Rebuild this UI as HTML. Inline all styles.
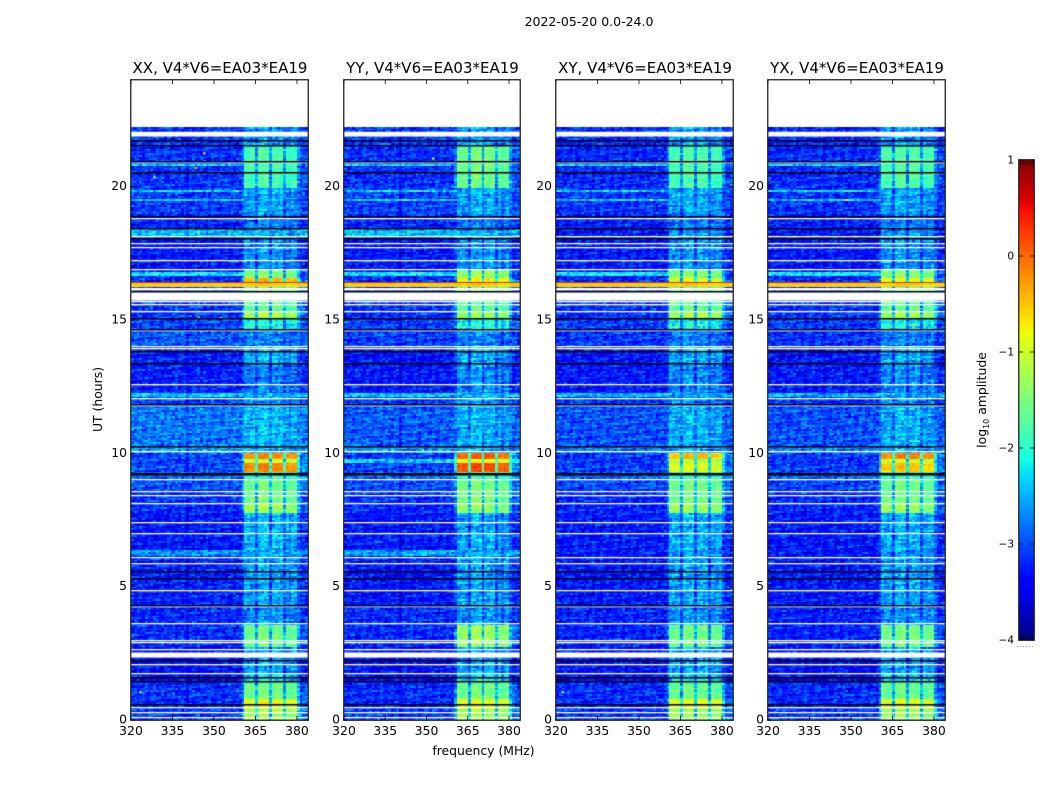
<!DOCTYPE html>
<html lang="en">
<head>
<meta charset="utf-8">
<title>2022-05-20 dynamic spectra</title>
<style>
html,body{margin:0;padding:0;background:#fff;}
#stage{position:relative;width:1050px;height:800px;overflow:hidden;background:#fff;}
canvas{position:absolute;display:block;}
svg{position:absolute;left:0;top:0;}
text{font-family:"DejaVu Sans","Liberation Sans",sans-serif;fill:#000;}
</style>
</head>
<body>
<div id="stage">
<canvas id="heat0" width="177" height="640" style="left:131px;top:80px"></canvas>
<canvas id="heat1" width="176" height="640" style="left:344px;top:80px"></canvas>
<canvas id="heat2" width="177" height="640" style="left:556px;top:80px"></canvas>
<canvas id="heat3" width="177" height="640" style="left:768px;top:80px"></canvas>
<canvas id="cbar" width="15" height="480" style="left:1019px;top:160px"></canvas>
<svg id="overlay" width="1050" height="800" xmlns="http://www.w3.org/2000/svg">
<text x="589" y="26" text-anchor="middle" font-size="12.5">2022-05-20 0.0-24.0</text>
<text x="483.5" y="755" text-anchor="middle" font-size="12.4">frequency (MHz)</text>
<text transform="translate(102,399.5) rotate(-90)" text-anchor="middle" font-size="12.4">UT (hours)</text>
<text transform="translate(986,400) rotate(-90)" text-anchor="middle" font-size="12.4">log<tspan font-size="8" dy="3">10</tspan><tspan dy="-3"> amplitude</tspan></text>
</svg>
</div>
<script>
// ---------- chart data ----------
const panelTitles = ["XX, V4*V6=EA03*EA19","YY, V4*V6=EA03*EA19","XY, V4*V6=EA03*EA19","YX, V4*V6=EA03*EA19"];
const xTicks = [320,335,350,365,380];
const yTicks = [0,5,10,15,20];
const colorTicks = [-4,-3,-2,-1,0,1];
const dataTopUT = 22.25;
const bandEdgesMHz = [[361,365],[366,370],[371,375],[376,380]];
const bandTrim = [-0.05,0.05,0.0,-0.08];

// lower UT edge of each time block, reading top to bottom
const segmentFloorUT = [21.54,19.93,18.99,18.39,18.10,16.85,16.55,16.37,16.25,15.35,15.07,14.60,14.00,13.37,12.24,12.09,11.83,10.25,10.03,9.77,9.62,9.28,9.03,8.58,8.12,7.74,6.39,6.13,4.29,3.54,2.72,1.74,1.44,0.73,0.39,0.00];

// log10 amplitude of the off-band background in each block
const backgroundXX = [-3.15,-3.15,-3.1,-3.25,-2.45,-3.3,-3.3,-3.2,-0.55,-3.1,-3.1,-3.05,-2.95,-3.25,-3.25,-2.35,-3.1,-2.8,-2.6,-3.05,-3.1,-3.05,-2.85,-3.0,-3.15,-3.2,-3.3,-2.65,-3.25,-3.2,-3.2,-3.35,-3.4,-3.15,-3.2,-3.1];
const backgroundYY = [-3.15,-3.15,-3.1,-3.2,-2.4,-3.3,-3.3,-3.2,-0.55,-3.15,-3.15,-3.1,-3.1,-3.3,-3.3,-2.4,-3.15,-2.95,-2.6,-3.1,-2.35,-3.1,-2.85,-3.05,-3.15,-3.2,-3.3,-2.6,-3.3,-3.2,-3.2,-3.35,-3.4,-3.2,-3.2,-3.1];
const backgroundXY = [-3.2,-3.2,-3.15,-3.25,-3.3,-3.3,-3.3,-3.2,-0.55,-3.15,-3.15,-3.1,-3.15,-3.3,-3.3,-2.5,-3.15,-3.0,-2.75,-3.1,-3.15,-3.1,-2.9,-3.05,-3.2,-3.25,-3.3,-3.3,-3.3,-3.25,-3.25,-3.35,-3.4,-3.2,-3.2,-3.15];
const backgroundYX = [-3.2,-3.2,-3.15,-3.25,-3.3,-3.3,-3.3,-3.2,-0.55,-3.15,-3.15,-3.1,-3.15,-3.3,-3.3,-2.5,-3.15,-3.0,-2.75,-3.1,-3.15,-3.1,-2.9,-3.05,-3.2,-3.25,-3.3,-3.3,-3.3,-3.25,-3.25,-3.35,-3.4,-3.2,-3.2,-3.15];

// log10 amplitude inside the 361-380 MHz bands in each block
const bandXX = [-2.6,-1.8,-2.55,-2.75,-2.55,-2.65,-1.45,-0.4,-0.55,-1.65,-1.15,-2.05,-2.75,-2.45,-2.75,-2.5,-2.65,-2.45,-2.5,-0.2,-1.0,-0.15,-1.9,-1.55,-1.55,-1.25,-2.45,-2.55,-2.55,-2.65,-1.55,-2.55,-2.3,-1.55,-0.8,-1.25];
const bandYY = [-2.6,-1.55,-2.55,-2.75,-2.55,-2.65,-1.3,-0.7,-0.55,-1.65,-1.3,-2.05,-2.75,-2.5,-2.65,-2.5,-2.65,-2.5,-2.5,0.05,-0.8,0.15,-1.85,-1.5,-1.5,-1.35,-2.55,-2.55,-2.55,-2.65,-1.3,-2.55,-2.3,-1.55,-0.85,-1.25];
const bandXY = [-2.6,-1.8,-2.55,-2.75,-2.65,-2.65,-1.45,-0.85,-0.55,-1.65,-1.2,-2.1,-2.75,-2.5,-2.7,-2.55,-2.7,-2.5,-2.55,-0.45,-1.15,-0.9,-1.9,-1.55,-1.55,-1.3,-2.5,-2.6,-2.55,-2.65,-1.55,-2.55,-2.35,-1.6,-0.85,-1.3];
const bandYX = [-2.6,-1.75,-2.55,-2.75,-2.65,-2.65,-1.4,-0.8,-0.55,-1.65,-1.25,-2.1,-2.75,-2.5,-2.7,-2.55,-2.7,-2.5,-2.55,-0.15,-1.0,-0.5,-1.9,-1.55,-1.55,-1.3,-2.5,-2.6,-2.55,-2.65,-1.5,-2.55,-2.35,-1.6,-0.85,-1.3];

// flagged (blank) and zero-valued (black) integrations, UT hours
const whiteLinesUT = [20.89,18.82,18.13,17.87,17.72,17.23,16.89,15.69,15.58,15.33,14.60,14.00,13.93,12.57,12.05,11.79,10.07,9.03,8.58,8.42,8.13,7.40,6.99,6.10,5.87,4.86,4.27,3.63,2.98,2.91,2.66,2.08,1.74,0.46,0.28,0.08];
const whiteBandTopUT = [22.06,16.20,16.05,2.53];
const whiteBandFloorUT = [21.88,16.11,15.73,2.34];
const blackLinesUT = [21.72,21.55,20.95,20.54,18.89,18.44,18.04,16.07,15.07,14.65,13.82,13.37,11.83,10.25,9.26,9.22,5.57,5.29,4.29,2.23,1.60,1.44,0.58];
const redLineUT = [16.42];

// narrow RFI streaks and isolated spikes
const streakUT = [20.80,19.85,19.47,16.72];
const streakLog = [-2.3,-2.3,-2.35,-2.2];
const spikePanel = [0,0,0,0,0,0,1,2,2,3];
const spikeMHz = [346,343,328,344,352,323,352,322,354,348];
const spikeUT = [21.25,20.70,20.35,15.08,15.08,1.05,21.05,1.05,19.5,19.5];
const spikeLog = [-0.6,-0.4,-1.2,-1.0,-0.5,-1.4,-1.2,-1.3,-0.8,-0.9];

// hand-typed grain tables that give the cells their speckled look
const grainA = [0.21,-0.34,0.08,-0.12,0.29,-0.05,-0.27,0.16,0.33,-0.19,0.02,-0.31,0.12,0.24,-0.08,-0.22,0.31,-0.15,0.05,-0.36,0.18,0.27,-0.02,-0.25,0.1,-0.11,0.35,-0.29,0.06,0.14,-0.17];
const grainB = [-0.14,0.22,-0.26,0.03,0.17,-0.09,0.28,-0.21,0.11,-0.03,0.25,-0.3,0.07,0.19,-0.16,0.01,-0.24,0.3,-0.07,0.13,-0.19,0.23,-0.01,-0.28,0.09,0.2,-0.12,0.04,-0.23,0.26,-0.05,0.15,-0.18,0.0,0.24,-0.1,0.06];

const backgrounds = [backgroundXX,backgroundYY,backgroundXY,backgroundYX];
const bands = [bandXX,bandYY,bandXY,bandYX];

// ---------- scales ----------
const freqMin = 320, freqMax = 384, utMin = 0, utMax = 24, logMin = -4, logMax = 1;
const plotTop = 80, plotHeight = 640, plotWidth = 177;
const panelLeft = [131,344,556,768];
const cbarLeft = 1019, cbarTop = 160, cbarWidth = 15, cbarHeight = 480;
function xScale(mhz){ return (mhz-freqMin)/(freqMax-freqMin)*plotWidth; }
function yScale(ut){ return (utMax-ut)/(utMax-utMin)*plotHeight; }
function cScale(v){ return (logMax-v)/(logMax-logMin)*cbarHeight; }

function lerp(t,xs,ys){
  for(let i=1;i<xs.length;i++){
    if(t<=xs[i]) return ys[i-1]+(ys[i]-ys[i-1])*(t-xs[i-1])/(xs[i]-xs[i-1]);
  }
  return ys[ys.length-1];
}
function jet(t){
  t=Math.max(0,Math.min(1,t));
  return [
    255*lerp(t,[0,0.35,0.66,0.89,1],[0,0,1,1,0.5]),
    255*lerp(t,[0,0.125,0.375,0.64,0.91,1],[0,0,1,1,0,0]),
    255*lerp(t,[0,0.11,0.34,0.65,1],[0.5,1,1,0,0])
  ];
}
function levelColor(v){ return jet((v-logMin)/(logMax-logMin)); }

// ---------- heatmaps ----------
const rowStep = 0.07;
const rowCount = Math.round((utMax-utMin)/rowStep);
const chanCount = freqMax-freqMin;
function segmentIndex(ut){
  for(let i=0;i<segmentFloorUT.length;i++){ if(ut>=segmentFloorUT[i]) return i; }
  return segmentFloorUT.length-1;
}
function bandWeight(mhz){
  for(let b=0;b<bandEdgesMHz.length;b++){
    const e=bandEdgesMHz[b];
    if(mhz>=e[0]&&mhz<e[1]) return {w:1,trim:bandTrim[b]};
  }
  if(mhz===360) return {w:0.25,trim:0};
  if(mhz>=361&&mhz<=380) return {w:0.4,trim:0};
  if(mhz>380) return {w:0.12,trim:0};
  return {w:0,trim:0};
}
function drawPanel(p){
  const off=document.createElement('canvas');
  off.width=chanCount; off.height=rowCount;
  const octx=off.getContext('2d');
  const img=octx.createImageData(chanCount,rowCount);
  for(let r=0;r<rowCount;r++){
    const ut=utMax-(r+0.5)*rowStep;
    const seg=segmentIndex(ut);
    for(let c=0;c<chanCount;c++){
      const i=(r*chanCount+c)*4;
      if(ut>dataTopUT){
        img.data[i]=255;img.data[i+1]=255;img.data[i+2]=255;img.data[i+3]=255;
        continue;
      }
      const mhz=freqMin+c;
      const bw=bandWeight(mhz);
      const bg=backgrounds[p][seg], bd=bands[p][seg]+bw.trim;
      let lvl=bg+bw.w*(bd-bg);
      for(let s=0;s<streakUT.length;s++){
        if(Math.abs(ut-streakUT[s])<rowStep*0.6 && mhz<361) lvl=Math.max(lvl,streakLog[s]);
      }
      const ga=grainA[(c*13+r*29+p*5)%grainA.length];
      const gb=grainB[(c*c*3+r*17+c*r+p*7)%grainB.length];
      const amp=(bg>-1)?0.12:(bw.w===1&&bd>-1.2?0.3:(bw.w===1&&bd>-2?0.5:0.85));
      lvl+=(ga+gb)*amp;
      const col=levelColor(lvl);
      img.data[i]=col[0];img.data[i+1]=col[1];img.data[i+2]=col[2];img.data[i+3]=255;
    }
  }
  octx.putImageData(img,0,0);
  const cv=document.getElementById('heat'+p);
  const ctx=cv.getContext('2d');
  ctx.fillStyle='#fff';
  ctx.fillRect(0,0,cv.width,cv.height);
  ctx.imageSmoothingEnabled=false;
  ctx.drawImage(off,0,0,cv.width,cv.height);
  const sx=cv.width/plotWidth;
  spikeMHz.forEach(function(m,k){
    if(spikePanel[k]!==p) return;
    const col=levelColor(spikeLog[k]);
    ctx.fillStyle='rgb('+col.map(Math.round).join(',')+')';
    ctx.fillRect(xScale(m)*sx,yScale(spikeUT[k])-1,2.5,2);
  });
  redLineUT.forEach(function(u){
    ctx.fillStyle='rgb(235,40,0)';
    ctx.fillRect(0,Math.round(yScale(u)-0.5),cv.width,1);
  });
  ctx.fillStyle='#fff';
  whiteBandTopUT.forEach(function(u,k){
    ctx.fillRect(0,yScale(u),cv.width,yScale(whiteBandFloorUT[k])-yScale(u));
  });
  whiteLinesUT.forEach(function(u){
    ctx.fillRect(0,Math.round(yScale(u)-0.5),cv.width,1.3);
  });
  ctx.fillStyle='#000';
  blackLinesUT.forEach(function(u){
    ctx.fillRect(0,Math.round(yScale(u)-0.5),cv.width,1.5);
  });
}
panelLeft.forEach(function(_,p){ drawPanel(p); });

// ---------- colorbar ----------
(function(){
  const cv=document.getElementById('cbar');
  const ctx=cv.getContext('2d');
  for(let y=0;y<cbarHeight;y++){
    const v=logMax-(y+0.5)/cbarHeight*(logMax-logMin);
    const col=levelColor(v);
    ctx.fillStyle='rgb('+col.map(Math.round).join(',')+')';
    ctx.fillRect(0,y,cbarWidth,1);
  }
})();

// ---------- axes ----------
const NS='http://www.w3.org/2000/svg';
const overlay=document.getElementById('overlay');
function svgEl(tag,props,txt){
  const el=document.createElementNS(NS,tag);
  for(const k in props) el.setAttribute(k,props[k]);
  if(txt!==undefined) el.textContent=txt;
  overlay.appendChild(el);
  return el;
}
panelLeft.forEach(function(left,p){
  const w=(p===1)?176:plotWidth;
  const frame=svgEl('rect',{x:left-0.25,y:plotTop-0.25,width:w+0.5,height:plotHeight+0.5,fill:'none',stroke:'#222','stroke-width':1.3});
  
  
  const title=svgEl('text',{x:left+w/2+0.5,y:73,'text-anchor':'middle','font-size':15},panelTitles[p]);
  
  
  xTicks.forEach(function(t){
    const x=left+xScale(t)*(w/plotWidth);
    const tb=svgEl('line',{x1:x,x2:x,y1:plotTop+plotHeight,y2:plotTop+plotHeight-4,stroke:'#000','stroke-width':0.8});
    
    
    const tt=svgEl('line',{x1:x,x2:x,y1:plotTop,y2:plotTop+4,stroke:'#000','stroke-width':0.8});
    
    
    const lab=svgEl('text',{x:x,y:735,'text-anchor':'middle','font-size':12.4},String(t));
    
    
  });
  yTicks.forEach(function(t){
    const y=plotTop+yScale(t);
    const tl=svgEl('line',{x1:left,x2:left+4,y1:y,y2:y,stroke:'#000','stroke-width':0.8});
    
    
    const tr=svgEl('line',{x1:left+w,x2:left+w-4,y1:y,y2:y,stroke:'#000','stroke-width':0.8});
    
    
    const lab=svgEl('text',{x:left-4,y:y+3.5,'text-anchor':'end','font-size':12.4},String(t));
    
    
  });
});

const cbFrame=svgEl('rect',{x:cbarLeft-0.25,y:cbarTop-0.25,width:cbarWidth+0.5,height:cbarHeight+0.5,fill:'none',stroke:'#222','stroke-width':1.3});


colorTicks.forEach(function(t){
  const y=cbarTop+cScale(t);
  const a=svgEl('line',{x1:cbarLeft,x2:cbarLeft+4,y1:y,y2:y,stroke:'#000','stroke-width':0.8});
  
  
  const b=svgEl('line',{x1:cbarLeft+cbarWidth,x2:cbarLeft+cbarWidth-4,y1:y,y2:y,stroke:'#000','stroke-width':0.8});
  
  
  const lab=svgEl('text',{x:cbarLeft-5,y:y+3.5,'text-anchor':'end','font-size':10.5},String(t).replace('-','\u2212'));
  
  
});
[2,5,8,11,14].forEach(function(dx){
  [[cbarTop,cbarTop+5],[cbarTop+cbarHeight,cbarTop+cbarHeight-5]].forEach(function(ys){
    const m=svgEl('line',{x1:cbarLeft+dx,x2:cbarLeft+dx,y1:ys[0],y2:ys[1],stroke:'#000','stroke-width':0.6});
    
    
  });
});
[-2,1,4,7,10,13].forEach(function(dx){
  const d=svgEl('rect',{x:cbarLeft+dx,y:646,width:1,height:1,fill:'#999'});
  
  
});
</script>
</body>
</html>
